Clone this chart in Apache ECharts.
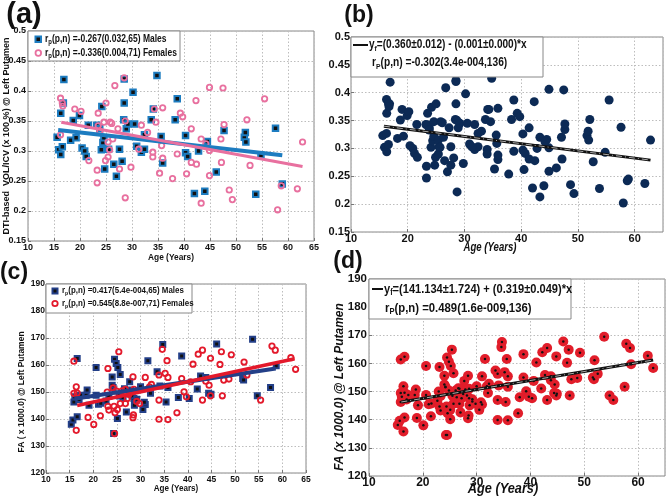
<!DOCTYPE html>
<html><head><meta charset="utf-8">
<script src="https://cdn.jsdelivr.net/npm/echarts@6/dist/echarts.min.js"></script>
<style>html,body{margin:0;padding:0;background:#fff}#c{width:667px;height:497px}</style>
</head><body><div id="c"></div>
<script>
// ---------- Panel (a): DTI-based VOL/ICV vs age ----------
const ageMalesA = [15.6,15.9,16.3,16.3,16.6,16.9,16.8,18.2,18.7,19.25,19.9,20.4,20.9,21.2,21.6,23.2,23.8,24.2,24.1,24.4,24.75,24.6,25.5,26.5,27.0,27.6,28.1,28.4,28.5,28.5,28.9,29.2,30.2,30.5,30.9,31.8,32.4,32.4,33.7,34.1,34.8,35.6,35.9,38.3,38.7,40.3,40.3,40.7,42.0,42.8,44.0,44.5,46.2,47.7,51.6,51.8,51.9,53.8,54.8,57.6,58.9];
const volMales   = [0.323,0.302,0.294,0.363,0.307,0.419,0.380,0.318,0.351,0.322,0.359,0.305,0.300,0.291,0.343,0.343,0.337,0.374,0.302,0.314,0.270,0.322,0.303,0.278,0.258,0.303,0.283,0.352,0.380,0.420,0.337,0.345,0.398,0.345,0.308,0.298,0.303,0.327,0.352,0.370,0.426,0.324,0.280,0.352,0.387,0.326,0.297,0.291,0.229,0.300,0.233,0.316,0.265,0.334,0.323,0.331,0.315,0.228,0.293,0.338,0.245];
const ageFemalesA = [16.26,16.6,16.7,16.26,19.0,20.2,21.7,23.5,23.3,23.3,23.5,24.6,25.0,24.9,25.4,25.4,25.7,25.8,26.7,27.3,27.6,28.5,28.7,28.7,29.8,31.3,31.8,33.0,34.0,34.0,34.3,34.6,35.3,35.7,35.9,35.9,37.8,38.7,39.3,39.75,40.5,41.4,41.4,42.3,42.4,43.3,43.3,44.9,44.9,44.9,44.2,47.1,47.2,47.5,47.7,48.7,49.3,52.1,52.7,55.5,58.0,58.7,61.8,62.8,23.8,26.1,26.3];
const volFemales  = [0.388,0.380,0.375,0.327,0.370,0.366,0.284,0.363,0.268,0.247,0.342,0.348,0.380,0.284,0.315,0.290,0.302,0.348,0.409,0.337,0.270,0.422,0.350,0.222,0.273,0.303,0.343,0.331,0.298,0.290,0.370,0.348,0.263,0.309,0.288,0.372,0.254,0.295,0.363,0.357,0.262,0.337,0.281,0.384,0.278,0.320,0.213,0.406,0.301,0.259,0.312,0.320,0.281,0.405,0.344,0.235,0.219,0.352,0.276,0.387,0.202,0.242,0.237,0.315,0.333,0.346,0.320];
const fitAgeMalesA = [15.8, 58.9];   const fitVolMales = [0.335, 0.293];
const fitAgeFemalesA = [16.4, 62.8]; const fitVolFemales = [0.348, 0.274];
// ---------- Panel (b): pooled ----------
const fitAgeAllB = [15.8, 62.8]; const fitVolAll = [0.340, 0.279];

// ---------- Panel (c): FA vs age ----------
const ageMalesC = [15.35,15.7,15.9,16.1,16.6,16.6,17.3,18.5,18.7,19.1,20.6,20.6,21.1,21.6,22.7,24.0,24.2,24.3,24.5,24.85,25.1,25.2,25.7,25.5,26.3,27.0,27.7,27.9,28.6,28.7,30.0,30.5,31.0,31.55,32.1,33.5,34.1,34.7,35.4,35.8,38.0,38.7,40.3,42.0,42.7,43.8,44.4,46.1,51.6,51.8,53.7,54.7,57.5,58.7,24.0,26.6,28.2,29.2,17.0,44.9,23.3,30.8];
const faMales   = [138.1,139.6,146.3,148.2,162.4,140.8,148.8,148.8,150.7,145.1,159.1,148.8,145.5,145.8,146.7,155.6,151.7,134.6,162.1,160.6,140.2,159.1,156.5,148.5,148.0,142.6,153.8,150.7,147.6,145.1,151.9,143.5,145.4,161.6,149.5,157.5,152.2,167.6,146.3,151.7,148.0,163.3,147.6,151.1,155.9,155.4,149.5,167.8,155.0,154.4,169.5,148.6,151.7,159.7,152.5,151.2,148.6,147.3,147.2,149.2,148.4,146.2];
const ageFemalesC = [15.9,15.9,16.4,16.4,18.9,20.1,21.5,23.1,22.95,23.1,23.3,24.4,24.6,24.5,24.85,25.4,25.1,25.7,26.1,26.8,26.8,27.5,28.4,28.6,28.5,28.4,29.8,31.0,31.9,33.9,33.9,33.9,34.6,35.2,35.6,35.8,35.8,37.7,38.7,39.2,39.7,40.6,41.1,42.2,43.1,43.1,43.8,44.5,44.8,44.8,46.8,47.1,47.3,47.6,48.7,49.2,51.9,52.5,55.4,57.8,58.5,61.8,62.8,16.6,27.2,29.2,24.2,32.3];
const faFemales   = [161.4,149.5,151.9,135.8,140.6,138.0,141.2,158.7,150.0,144.7,143.3,144.7,142.3,134.6,150.4,164.9,143.5,145.7,150.4,145.7,151.0,149.1,155.6,151.0,141.5,140.5,145.7,155.4,151.9,156.3,147.0,139.9,165.8,156.9,161.6,155.4,139.8,142.3,155.0,150.1,148.2,153.8,160.3,164.0,165.5,147.0,154.0,152.5,162.5,148.6,160.2,164.9,148.6,154.4,154.8,163.8,161.1,156.3,147.0,167.0,165.5,162.7,158.4,149.6,147.6,146.5,151.5,152.8];
const fitAgeMalesC = [16.0, 58.6];   const fitFaMales = [147.5, 158.7];
const fitAgeFemalesC = [16.6, 62.6]; const fitFaFemales = [145.0, 162.3];
// ---------- Panel (d): pooled ----------
const fitAgeAllD = [16.0, 62.8]; const fitFaAll = [146.3, 161.2];

// ---------- tick settings ----------
const ageTicks = {min:10, max:65};
const volTicks = {min:0.15, max:0.5, interval:0.05};
const faTicks  = {min:120, max:190, interval:10};

function pairs(xs, ys){ return xs.map((x,i)=>[x, ys[i]]); }
const F = 'Liberation Sans';
const split = {show:true, lineStyle:{color:'#bdbdbd', type:[1.5,2], width:1}};

function xAx(gi, interval, fs, margin, hideMax){
  return {type:'value', gridIndex:gi, min:ageTicks.min, max:ageTicks.max, interval:interval,
    axisLine:{show:false}, axisTick:{show:true, inside:true, length:3, lineStyle:{color:'#777'}},
    splitLine:split,
    axisLabel:{fontFamily:F, fontWeight:'bold', fontSize:fs, color:'#111', margin:margin, showMaxLabel:!hideMax}};
}
function yAx(gi, t, fs, margin){
  return {type:'value', gridIndex:gi, min:t.min, max:t.max, interval:t.interval,
    axisLine:{show:false}, axisTick:{show:true, inside:true, length:3, lineStyle:{color:'#777'}},
    splitLine:split,
    axisLabel:{fontFamily:F, fontWeight:'bold', fontSize:fs, color:'#111', margin:margin}};
}

const blueA = '#1d7cc0', pinkA = '#e8709f', navyB = '#0c2a55';
const navyC = '#233f88', redC = '#e3192b', redD = '#e11d2a';

function txt(x, y, text, font, sx, rot){
  return {type:'text', x:x, y:y, z:100, scaleX:sx||1, rotation:rot||0,
    style:{text:text, font:font, fill:'#111', align:'center', verticalAlign:'middle'}};
}
function rich(x, y, main, sub, rest, fs, sx){
  return {type:'text', x:x, y:y, z:100, scaleX:sx||1, style:{
    text:'{n|'+main+'}{s|'+sub+'}{n|'+rest+'}', align:'left', verticalAlign:'middle', fill:'#111',
    rich:{n:{fontFamily:F, fontWeight:'bold', fontSize:fs, fill:'#111'},
          s:{fontFamily:F, fontWeight:'bold', fontSize:Math.round(fs*0.68), fill:'#111', padding:[Math.round(fs*0.55),0,0,0]}}}};
}
const UP = Math.PI/2;

const graphic = [
  // panel labels
  txt(24, 15, '(a)', 'bold 29px '+F),
  txt(359, 16, '(b)', 'bold 23px '+F),
  txt(14, 273, '(c)', 'bold 23px '+F),
  txt(348, 262, '(d)', 'bold 23px '+F),
  // axis titles
  txt(7, 136, 'DTI-based  VOL/ICV (x 100 %) @ Left Putamen', 'bold 9px '+F, 1, UP),
  txt(171, 257, 'Age (Years)', 'bold 9.5px '+F, 0.88),
  txt(490, 248, 'Age (Years)', 'italic bold 12px '+F, 0.8),
  txt(21.5, 392, 'FA ( x 1000.0) @ Left Putamen', 'bold 8.5px '+F, 1, UP),
  txt(176, 488, 'Age (Years)', 'bold 9.5px '+F, 0.85),
  txt(340, 387, 'FA (x 1000.0) @ Left Putamen', 'italic bold 12px '+F, 1, UP),
  txt(503, 489, 'Age (Years)', 'italic bold 15px '+F, 0.85),
  // legend (a)
  {type:'rect', z:90, shape:{x:28, y:31, width:152, height:30}, style:{fill:'#fff', stroke:'#888', lineWidth:1}},
  {type:'rect', z:95, shape:{x:35.5, y:36.5, width:5.5, height:5.5}, style:{fill:'#111', stroke:blueA, lineWidth:2}},
  {type:'circle', z:95, shape:{cx:38.3, cy:53, r:2.8}, style:{fill:'#fff', stroke:pinkA, lineWidth:1.8}},
  rich(45, 39, 'r', 'p', '(p,n) =-0.267(0.032,65) Males', 10, 0.85),
  rich(45, 53, 'r', 'p', '(p,n) =-0.336(0.004,71) Females', 10, 0.85),
  // legend (b)
  {type:'rect', z:90, shape:{x:351, y:37, width:192, height:40}, style:{fill:'#fff', stroke:'#888', lineWidth:1}},
  {type:'line', z:95, shape:{x1:353, y1:45, x2:368, y2:45}, style:{stroke:'#111', lineWidth:2}},
  rich(369, 45, 'y', 'f', '=(0.360\u00b10.012) - (0.001\u00b10.000)*x', 12, 0.84),
  rich(372, 63, 'r', 'P', '(p,n) =-0.302(3.4e-004,136)', 12, 0.85),
  // legend (c)
  {type:'rect', z:90, shape:{x:46, y:284, width:146, height:29}, style:{fill:'#fff', stroke:'#888', lineWidth:1}},
  {type:'rect', z:95, shape:{x:52.5, y:288.5, width:5, height:5}, style:{fill:'#111', stroke:navyC, lineWidth:2}},
  {type:'circle', z:95, shape:{cx:55, cy:303.5, r:2.7}, style:{fill:'#fff', stroke:redC, lineWidth:1.8}},
  rich(62, 291, 'r', 'p', '(p,n) =0.417(5.4e-004,65) Males', 9, 0.88),
  rich(62, 303.5, 'r', 'p', '(p,n) =0.545(8.8e-007,71) Females', 9, 0.88),
  // legend (d)
  {type:'rect', z:90, shape:{x:369, y:279, width:202, height:40}, style:{fill:'#fff', stroke:'#888', lineWidth:1}},
  {type:'line', z:95, shape:{x1:372, y1:289, x2:383, y2:289}, style:{stroke:'#111', lineWidth:2}},
  rich(384, 289, 'y', 'f', '=(141.134\u00b11.724) + (0.319\u00b10.049)*x', 13.5, 0.82),
  rich(385, 308, 'r', 'P', '(p,n) =0.489(1.6e-009,136)', 13.5, 0.84)
];

const allAgeB = ageMalesA.concat(ageFemalesA), allVol = volMales.concat(volFemales);
const allAgeD = ageMalesC.concat(ageFemalesC), allFa = faMales.concat(faFemales);

const option = {
  animation:false,
  backgroundColor:'#fff',
  grid:[
    {left:28, top:31, width:286, height:210, show:true, borderColor:'#888', borderWidth:1, backgroundColor:'#fff'},
    {left:351, top:37, width:312, height:195, show:true, borderColor:'#888', borderWidth:1, backgroundColor:'#fff'},
    {left:46, top:284, width:260, height:189, show:true, borderColor:'#888', borderWidth:1, backgroundColor:'#fff'},
    {left:369, top:279, width:296, height:197, show:true, borderColor:'#888', borderWidth:1, backgroundColor:'#fff'}
  ],
  xAxis:[xAx(0,5,9,2,false), xAx(1,10,11,1,true), xAx(2,5,8.5,2,false), xAx(3,10,12,1,true)],
  yAxis:[yAx(0,volTicks,9,2), yAx(1,volTicks,11,1), yAx(2,faTicks,8.5,1), yAx(3,faTicks,11.5,2)],
  graphic:graphic,
  series:[
    // (a)
    {type:'scatter', xAxisIndex:0, yAxisIndex:0, symbol:'rect', symbolSize:5.5, data:pairs(ageMalesA, volMales),
      itemStyle:{color:'#111', borderColor:blueA, borderWidth:2, opacity:1}},
    {type:'scatter', xAxisIndex:0, yAxisIndex:0, symbol:'circle', symbolSize:5.4, data:pairs(ageFemalesA, volFemales),
      itemStyle:{color:'rgba(255,255,255,0)', borderColor:pinkA, borderWidth:1.8, opacity:1}},
    {type:'line', xAxisIndex:0, yAxisIndex:0, showSymbol:false, data:pairs(fitAgeMalesA, fitVolMales), lineStyle:{color:blueA, width:4}},
    {type:'line', xAxisIndex:0, yAxisIndex:0, showSymbol:false, data:pairs(fitAgeFemalesA, fitVolFemales), lineStyle:{color:pinkA, width:3}},
    // (b)
    {type:'scatter', xAxisIndex:1, yAxisIndex:1, symbol:'circle', symbolSize:9, data:pairs(allAgeB, allVol),
      itemStyle:{color:navyB, opacity:1}},
    {type:'line', xAxisIndex:1, yAxisIndex:1, showSymbol:false, data:pairs(fitAgeAllB, fitVolAll), lineStyle:{color:'#111', width:3}},
    {type:'line', xAxisIndex:1, yAxisIndex:1, showSymbol:false, data:pairs(fitAgeAllB, fitVolAll), lineStyle:{color:'#aaa', width:1, type:[6,3,1,3]}},
    // (c)
    {type:'scatter', xAxisIndex:2, yAxisIndex:2, symbol:'rect', symbolSize:5, data:pairs(ageMalesC, faMales),
      itemStyle:{color:'#111', borderColor:navyC, borderWidth:2, opacity:1}},
    {type:'scatter', xAxisIndex:2, yAxisIndex:2, symbol:'circle', symbolSize:5.4, data:pairs(ageFemalesC, faFemales),
      itemStyle:{color:'rgba(255,255,255,0)', borderColor:redC, borderWidth:1.8, opacity:1}},
    {type:'line', xAxisIndex:2, yAxisIndex:2, showSymbol:false, data:pairs(fitAgeMalesC, fitFaMales), lineStyle:{color:navyC, width:4}},
    {type:'line', xAxisIndex:2, yAxisIndex:2, showSymbol:false, data:pairs(fitAgeFemalesC, fitFaFemales), lineStyle:{color:redC, width:3.5}},
    // (d)
    {type:'scatter', xAxisIndex:3, yAxisIndex:3, symbol:'circle', symbolSize:10, data:pairs(allAgeD, allFa),
      itemStyle:{color:redD, opacity:1}},
    {type:'scatter', xAxisIndex:3, yAxisIndex:3, symbol:'circle', symbolSize:2.5, data:pairs(allAgeD, allFa),
      itemStyle:{color:'#111', opacity:1}},
    {type:'line', xAxisIndex:3, yAxisIndex:3, showSymbol:false, data:pairs(fitAgeAllD, fitFaAll), lineStyle:{color:'#111', width:3}},
    {type:'line', xAxisIndex:3, yAxisIndex:3, showSymbol:false, data:pairs(fitAgeAllD, fitFaAll), lineStyle:{color:'#aaa', width:1, type:[6,3,1,3]}}
  ]
};
const chart = echarts.init(document.getElementById('c'), null, {renderer:'canvas'});
chart.setOption(option);
</script></body></html>
